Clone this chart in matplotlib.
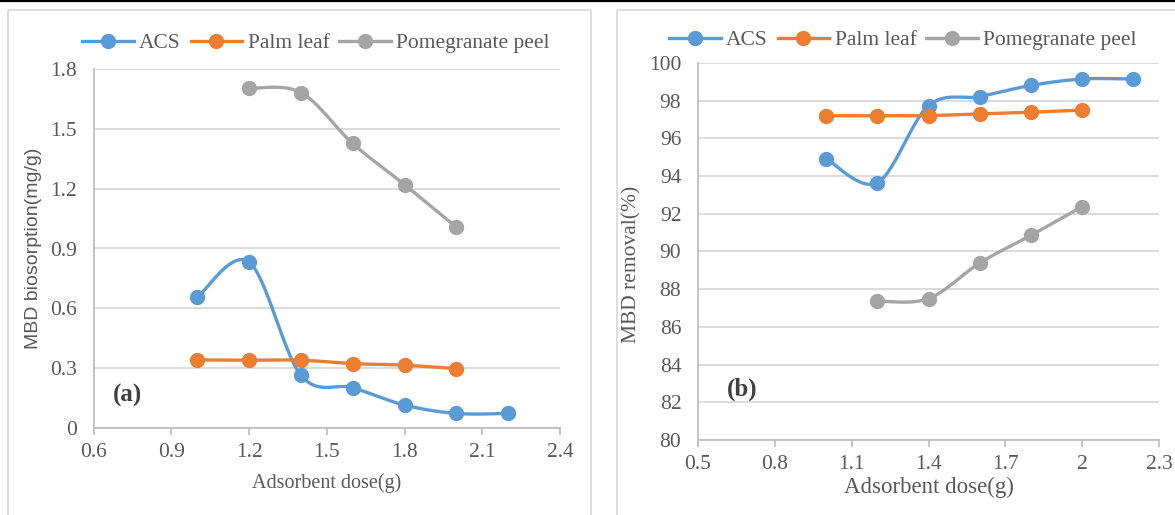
import numpy as np
import matplotlib
matplotlib.use("Agg")
import matplotlib.pyplot as plt
from matplotlib.lines import Line2D

# dose values (g)
dose_acs = [1.0, 1.2, 1.4, 1.6, 1.8, 2.0, 2.2]
dose_palm = [1.0, 1.2, 1.4, 1.6, 1.8, 2.0]
dose_pome = [1.2, 1.4, 1.6, 1.8, 2.0]

# (a) biosorption capacity, mg/g
uptake_acs = [0.655, 0.832, 0.265, 0.202, 0.115, 0.073, 0.073]
uptake_palm = [0.341, 0.340, 0.340, 0.323, 0.315, 0.298]
uptake_pome = [1.703, 1.682, 1.427, 1.220, 1.007]

# (b) removal, %
removal_acs = [94.93, 93.65, 97.73, 98.22, 98.81, 99.15, 99.15]
removal_palm = [97.20, 97.20, 97.21, 97.30, 97.39, 97.50]
removal_pome = [87.37, 87.50, 89.39, 90.86, 92.38]

series_names = ["ACS", "Palm leaf", "Pomegranate peel"]
series_colors = ["#5B9BD5", "#ED7D31", "#A5A5A5"]

SERIF = "Liberation Serif"
SANS = "Liberation Sans"
TXT = "#595959"
GRID = "#D9D9D9"
AXIS = "#BFBFBF"


def smooth(x, y, n=30):
    # spreadsheet-style smoothed line: cubic bezier with catmull-rom handles
    p = np.column_stack([x, y]).astype(float)
    out = [p[:1]]
    for i in range(len(p) - 1):
        p0 = p[i - 1] if i > 0 else p[i]
        p1, p2 = p[i], p[i + 1]
        p3 = p[i + 2] if i + 2 < len(p) else p[i + 1]
        c1 = p1 + (p2 - p0) / 6.0
        c2 = p2 - (p3 - p1) / 6.0
        t = np.linspace(0, 1, n)[1:, None]
        seg = ((1 - t) ** 3) * p1 + 3 * ((1 - t) ** 2) * t * c1 \
            + 3 * (1 - t) * t ** 2 * c2 + t ** 3 * p2
        out.append(seg)
    c = np.vstack(out)
    return c[:, 0], c[:, 1]


def draw_panel(ax, data, xlim, xticks, ylim, yticks, xfmt, yfmt, fs):
    for (x, y), col in zip(data, series_colors):
        sx, sy = smooth(x, y)
        ax.plot(sx, sy, color=col, lw=2.4, solid_capstyle="round", zorder=3)
        ax.plot(x, y, "o", color=col, ms=10, zorder=4)
    ax.set_xlim(*xlim)
    ax.set_ylim(*ylim)
    ax.set_xticks(xticks)
    ax.set_yticks(yticks)
    ax.set_xticklabels([xfmt(v) for v in xticks], fontfamily=SERIF,
                       fontsize=fs, color=TXT)
    ax.set_yticklabels([yfmt(v) for v in yticks], fontfamily=SERIF,
                       fontsize=fs, color=TXT)
    ax.grid(axis="y", color=GRID, lw=1.3)
    ax.set_axisbelow(True)
    for s in ["top", "right"]:
        ax.spines[s].set_visible(False)
    for s in ["left", "bottom"]:
        ax.spines[s].set_color(AXIS)
        ax.spines[s].set_linewidth(1.3)
    ax.tick_params(axis="y", length=0, pad=12)
    ax.tick_params(axis="x", length=5, width=1.3, color=AXIS, pad=6)


fig = plt.figure(figsize=(11.75, 5.15), dpi=100)
W, H = 1175.0, 515.0

# panel frames and the rule across the top
fig.add_artist(Line2D([0, 1], [1 - 1 / H, 1 - 1 / H], color="black", lw=1.6))
fig.add_artist(Line2D([8 / W, 8 / W, 591 / W, 591 / W],
                      [0, 1 - 10 / H, 1 - 10 / H, 0], color=GRID, lw=1.2))
fig.add_artist(Line2D([617 / W, 617 / W, 1.01],
                      [0, 1 - 10 / H, 1 - 10 / H], color=GRID, lw=1.2))

ax1 = fig.add_axes([93.5 / W, 1 - 428 / H, (560 - 93.5) / W, (428 - 69) / H])
draw_panel(ax1,
           [(dose_acs, uptake_acs), (dose_palm, uptake_palm),
            (dose_pome, uptake_pome)],
           (0.6, 2.4), [0.6, 0.9, 1.2, 1.5, 1.8, 2.1, 2.4],
           (0, 1.8), [0, 0.3, 0.6, 0.9, 1.2, 1.5, 1.8],
           lambda v: "%.1f" % v, lambda v: "%g" % round(v, 1), 15.5)
ax1.set_xlabel("Adsorbent dose(g)", fontfamily=SERIF, fontsize=14.5,
               color=TXT, labelpad=8)
ax1.set_ylabel("MBD biosorption(mg/g)", fontfamily=SANS, fontsize=14,
               color=TXT, labelpad=6)
ax1.text(0.042, 0.09, "(a)", transform=ax1.transAxes, fontfamily=SERIF,
         fontsize=18, fontweight="bold", color="#404040", va="center")

ax2 = fig.add_axes([698 / W, 1 - 440 / H, (1159 - 698) / W, (440 - 63) / H])
draw_panel(ax2,
           [(dose_acs, removal_acs), (dose_palm, removal_palm),
            (dose_pome, removal_pome)],
           (0.5, 2.3), [0.5, 0.8, 1.1, 1.4, 1.7, 2.0, 2.3],
           (80, 100), list(range(80, 101, 2)),
           lambda v: "%g" % round(v, 1), lambda v: "%d" % v, 15.5)
ax2.set_xlabel("Adsorbent dose(g)", fontfamily=SERIF, fontsize=16.5,
               color=TXT, labelpad=2)
ax2.set_ylabel("MBD removal(%)", fontfamily=SERIF, fontsize=15.5,
               color=TXT)
ax2.yaxis.set_label_coords(-0.122, 0.467)
ax2.text(0.062, 0.135, "(b)", transform=ax2.transAxes, fontfamily=SERIF,
         fontsize=18, fontweight="bold", color="#404040", va="center")

handles = [Line2D([], [], color=c, lw=2.4, marker="o", ms=10)
           for c in series_colors]
for cx, cy, fs in [(316, 43, 15.5), (903, 40, 15.5)]:
    leg = fig.legend(handles, series_names, loc="center",
                     bbox_to_anchor=(cx / W, 1 - cy / H), ncol=3,
                     frameon=False, handlelength=2.4, handletextpad=0.25,
                     columnspacing=0.45, borderpad=0,
                     prop={"family": SERIF, "size": fs})
    for t in leg.get_texts():
        t.set_color(TXT)

fig.savefig("out.png", dpi=100)
